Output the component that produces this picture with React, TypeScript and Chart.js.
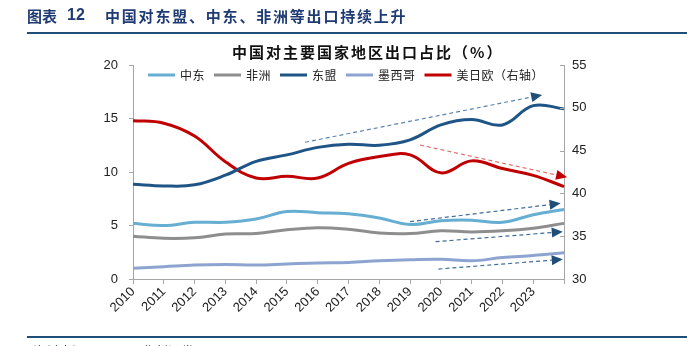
import React, { useEffect, useRef } from "react";
import { Chart, registerables } from "chart.js";

Chart.register(...registerables);

// ---------- data ----------
const years = ["2010", "2011", "2012", "2013", "2014", "2015", "2016", "2017", "2018", "2019", "2020", "2021", "2022", "2023", ""];
const middleEast = [5.2, 5.0, 5.3, 5.3, 5.6, 6.3, 6.2, 6.1, 5.7, 5.1, 5.45, 5.5, 5.3, 6.0, 6.5];
const africa = [4.0, 3.8, 3.85, 4.2, 4.25, 4.6, 4.8, 4.65, 4.3, 4.25, 4.5, 4.4, 4.5, 4.75, 5.2];
const asean = [8.85, 8.7, 8.8, 9.7, 11.0, 11.6, 12.3, 12.6, 12.5, 13.0, 14.4, 14.9, 14.4, 16.2, 15.9];
const mexico = [1.0, 1.15, 1.3, 1.35, 1.3, 1.4, 1.5, 1.55, 1.7, 1.8, 1.85, 1.7, 2.0, 2.2, 2.45];
const usJpEu = [48.5, 48.2, 46.7, 43.7, 41.8, 42.0, 41.8, 43.5, 44.3, 44.5, 42.4, 43.8, 42.9, 42.1, 40.8];

const seriesNames = ["中东", "非洲", "东盟", "墨西哥", "美日欧（右轴）"];
const seriesColors = ["#66AED2", "#8E8E8E", "#1F5586", "#8EA4D0", "#C00000"];

const leftTicks = [0, 5, 10, 15, 20];
const rightTicks = [30, 35, 40, 45, 50, 55];

// trend arrows in data units: [x0, y0, x1, y1]
const trendAsean = [5.59, 12.78, 13.29, 17.2];
const trendUsJpEu = [9.32, 45.65, 14.1, 41.88];
const trendMiddleEast = [9.0, 5.36, 13.89, 7.07];
const trendAfrica = [9.83, 3.49, 13.96, 4.42];
const trendMexico = [9.92, 0.93, 13.96, 1.84];

const mainTitleText = "中国对东盟、中东、非洲等出口持续上升";
const chartTitle = "中国对主要国家地区出口占比（%）";
const sourceText = "资料来源：Wind，华创证券";

const CJK = '"Noto Sans CJK SC", "Noto Sans", sans-serif';
const LATIN = '"Liberation Sans", Arial, sans-serif';
const AXIS = "#A6A6A6";
const NAVY = "#1F3B73";

function drawArrow(ctx: CanvasRenderingContext2D, x0: number, y0: number, x1: number, y1: number, lineColor: string, headColor: string) {
  const dx = x1 - x0, dy = y1 - y0;
  const len = Math.sqrt(dx * dx + dy * dy);
  const ux = dx / len, uy = dy / len;
  const head = 11, half = 5;
  const bx = x1 - ux * head, by = y1 - uy * head;
  ctx.save();
  ctx.strokeStyle = lineColor;
  ctx.lineWidth = 1.2;
  ctx.setLineDash([4, 3]);
  ctx.beginPath();
  ctx.moveTo(x0, y0);
  ctx.lineTo(bx, by);
  ctx.stroke();
  ctx.setLineDash([]);
  ctx.fillStyle = headColor;
  ctx.beginPath();
  ctx.moveTo(x1, y1);
  ctx.lineTo(bx - uy * half, by + ux * half);
  ctx.lineTo(bx + uy * half, by - ux * half);
  ctx.closePath();
  ctx.fill();
  ctx.restore();
}

const decorPlugin = {
  id: "decor",
  afterDatasetsDraw(chart: any) {
    const ctx: CanvasRenderingContext2D = chart.ctx;
    const xs = chart.scales.x;
    const yl = chart.scales.y;
    const yr = chart.scales.y1;
    const arrowsLeft = [
      { d: trendAsean, line: "#5A84B0", head: "#1F4E79" },
      { d: trendMiddleEast, line: "#3F6C9C", head: "#1F4E79" },
      { d: trendAfrica, line: "#3F6C9C", head: "#1F4E79" },
      { d: trendMexico, line: "#3F6C9C", head: "#1F4E79" },
    ];
    arrowsLeft.forEach((a) => {
      drawArrow(ctx, xs.getPixelForValue(a.d[0]), yl.getPixelForValue(a.d[1]), xs.getPixelForValue(a.d[2]), yl.getPixelForValue(a.d[3]), a.line, a.head);
    });
    drawArrow(ctx, xs.getPixelForValue(trendUsJpEu[0]), yr.getPixelForValue(trendUsJpEu[1]), xs.getPixelForValue(trendUsJpEu[2]), yr.getPixelForValue(trendUsJpEu[3]), "#E06A6A", "#C00000");
  },
  afterDraw(chart: any) {
    const ctx: CanvasRenderingContext2D = chart.ctx;
    const area = chart.chartArea;
    const yr = chart.scales.y1;
    ctx.save();
    // inward ticks on right axis
    ctx.strokeStyle = AXIS;
    ctx.lineWidth = 1;
    rightTicks.forEach((v) => {
      const y = Math.round(yr.getPixelForValue(v)) + 0.5;
      ctx.beginPath();
      ctx.moveTo(area.right - 4, y);
      ctx.lineTo(area.right, y);
      ctx.stroke();
    });

    // main header
    ctx.fillStyle = NAVY;
    ctx.textBaseline = "middle";
    ctx.textAlign = "left";
    ctx.font = `bold 15px ${CJK}`;
    (ctx as any).letterSpacing = "0px";
    ctx.fillText("图表", 27, 16);
    ctx.font = `bold 16px ${LATIN}`;
    ctx.fillText("12", 67, 16);
    ctx.font = `bold 15px ${CJK}`;
    (ctx as any).letterSpacing = "1.8px";
    ctx.fillText(mainTitleText, 105, 16);
    (ctx as any).letterSpacing = "0px";

    // header rule
    ctx.fillStyle = "#1F4E79";
    ctx.fillRect(27, 32, 660, 2);
    // footer rule
    ctx.fillRect(27, 336, 660, 2);

    // source
    ctx.fillStyle = NAVY;
    ctx.font = `13px ${CJK}`;
    ctx.textBaseline = "alphabetic";
    ctx.fillText(sourceText, 33, 356);

    // chart title
    ctx.fillStyle = "#111";
    ctx.font = `bold 15px ${CJK}`;
    (ctx as any).letterSpacing = "2px";
    ctx.textBaseline = "middle";
    ctx.fillText(chartTitle, 232, 52);
    (ctx as any).letterSpacing = "0px";

    // legend
    ctx.font = `12px ${CJK}`;
    (ctx as any).letterSpacing = "0.5px";
    let x = 148;
    const ly = 75;
    seriesNames.forEach((name, i) => {
      ctx.strokeStyle = seriesColors[i];
      ctx.lineWidth = 3;
      ctx.beginPath();
      ctx.moveTo(x, ly);
      ctx.lineTo(x + 27, ly);
      ctx.stroke();
      ctx.fillStyle = "#222";
      ctx.fillText(name, x + 32, ly);
      x += 32 + ctx.measureText(name).width + 9;
    });
    ctx.restore();
  },
};

export default function App() {
  const ref = useRef<HTMLCanvasElement | null>(null);
  useEffect(() => {
    if (!ref.current) return;
    const mk = (label: string, data: number[], color: string, axis: string) => ({
      label,
      data,
      borderColor: color,
      backgroundColor: color,
      borderWidth: 3,
      pointRadius: 0,
      tension: 0.4,
      yAxisID: axis,
      fill: false,
    });
    const chart = new Chart(ref.current, {
      type: "line",
      data: {
        labels: years,
        datasets: [
          mk(seriesNames[0], middleEast, seriesColors[0], "y"),
          mk(seriesNames[1], africa, seriesColors[1], "y"),
          mk(seriesNames[2], asean, seriesColors[2], "y"),
          mk(seriesNames[3], mexico, seriesColors[3], "y"),
          mk(seriesNames[4], usJpEu, seriesColors[4], "y1"),
        ],
      },
      options: {
        responsive: false,
        animation: false,
        devicePixelRatio: 1,
        layout: { padding: { top: 65, left: 0, right: 0, bottom: 0 } },
        plugins: {
          legend: { display: false },
          title: { display: false },
          tooltip: { enabled: false },
        },
        scales: {
          x: {
            type: "category",
            offset: false,
            grid: { drawOnChartArea: false, drawTicks: true, tickLength: 5, color: AXIS },
            border: { color: AXIS },
            ticks: {
              autoSkip: false,
              maxRotation: 45,
              minRotation: 45,
              padding: 0,
              color: "#222",
              font: { family: LATIN, size: 13 },
            },
            afterFit: (s: any) => {
              s.height = 67;
            },
          },
          y: {
            position: "left",
            min: 0,
            max: 20,
            afterBuildTicks: (s: any) => {
              s.ticks = leftTicks.map((v) => ({ value: v }));
            },
            grid: { drawOnChartArea: false, drawTicks: true, tickLength: 4, color: AXIS },
            border: { color: AXIS },
            ticks: { padding: 11, color: "#222", font: { family: LATIN, size: 13 } },
            afterFit: (s: any) => {
              s.width = 133;
            },
          },
          y1: {
            position: "right",
            min: 30,
            max: 55,
            afterBuildTicks: (s: any) => {
              s.ticks = rightTicks.map((v) => ({ value: v }));
            },
            grid: { drawOnChartArea: false, drawTicks: false, color: AXIS },
            border: { color: AXIS },
            ticks: { padding: 8, color: "#222", font: { family: LATIN, size: 13 } },
            afterFit: (s: any) => {
              s.width = 123;
            },
          },
        },
      } as any,
      plugins: [decorPlugin],
    });
    return () => chart.destroy();
  }, []);
  return (
    <div style={{ position: "absolute", left: 0, top: 0, width: 687, height: 346, background: "#fff" }}>
      <canvas ref={ref} width={687} height={346} style={{ display: "block" }} />
    </div>
  );
}
